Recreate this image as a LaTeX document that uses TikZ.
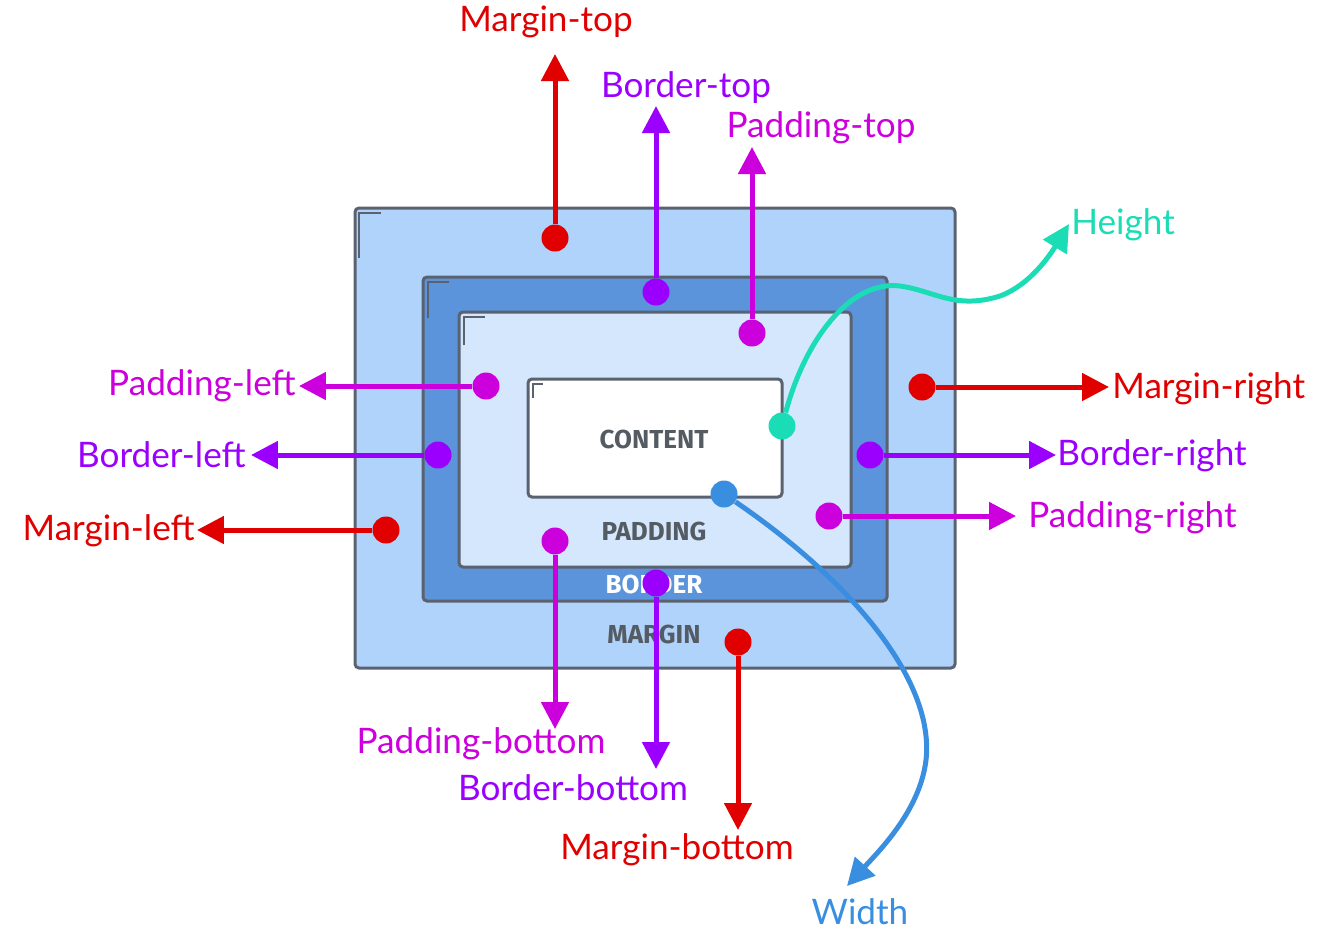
\documentclass[tikz,border=0pt]{standalone}
\usepackage{fontspec}
\setmainfont{Lato}
\setsansfont{Fira Sans}
\usepackage{xcolor}
\usepackage{tikz}
\usetikzlibrary{arrows.meta,positioning}
\definecolor{mgnfill}{HTML}{B0D3FB}
\definecolor{brdfill}{HTML}{5B94DB}
\definecolor{padfill}{HTML}{D5E7FC}
\definecolor{edge}{HTML}{5A6270}
\definecolor{mgncol}{HTML}{E00000}
\definecolor{brdcol}{HTML}{9B00FF}
\definecolor{padcol}{HTML}{CC00DD}
\definecolor{htcol}{HTML}{1BDDB5}
\definecolor{wdcol}{HTML}{3A8EE0}
\definecolor{txtgray}{HTML}{555B63}

\begin{document}
\begin{tikzpicture}[x=0.02cm,y=-0.02cm,
    box/.style={draw=edge, line width=0.06cm, rounded corners=0.08cm},
    tick/.style={edge, line width=0.03cm},
    dot/.style={circle, fill=#1, inner sep=0pt, minimum size=0.54cm},
    arr/.style={#1, line width=0.1cm, -{Triangle[length=0.54cm,width=0.54cm]}},
    lbl/.style={text=#1, font=\fontsize{20}{22}\selectfont, inner sep=0pt},
    tag/.style={text=#1, font=\sffamily\bfseries\fontsize{14.8}{16}\selectfont, inner sep=0pt}]
        \useasboundingbox (0,0) rectangle (1328,934);
        \draw[box, fill=mgnfill] (355,208) rectangle (955,668);
        \draw[box, fill=brdfill] (423,277) rectangle (887,601);
        \draw[box, fill=padfill] (459,312) rectangle (851,567);
        \draw[box, fill=white] (528,379) rectangle (782,497);
        \draw[tick] (359,258) -- (359,213) -- (381,213);
        \draw[tick] (428,318) -- (428,282) -- (449,282);
        \draw[tick] (464,345) -- (464,317) -- (485,317);
        \draw[tick] (533,398) -- (533,384) -- (543,384);
        \node[tag=txtgray] (content) at (654,439) {CONTENT};
        \node[tag=txtgray] (padding) at (654,531) {PADDING};
        \node[tag=white] (border) at (654,584) {BORDER};
        \node[tag=txtgray] (margin) at (654,634) {MARGIN};
        \node[dot=mgncol] (mt) at (555,238) {};
        \node[dot=brdcol] (bt) at (656,292) {};
        \node[dot=padcol] (pt) at (752,333) {};
        \node[dot=mgncol] (mr) at (922,387) {};
        \node[dot=brdcol] (br) at (870,455) {};
        \node[dot=padcol] (pr) at (829,516) {};
        \node[dot=padcol] (pl) at (486,386) {};
        \node[dot=brdcol] (bl) at (438,455) {};
        \node[dot=mgncol] (ml) at (386,530) {};
        \node[dot=padcol] (pb) at (555,541) {};
        \node[dot=brdcol] (bb) at (656,583) {};
        \node[dot=mgncol] (mb) at (738,642) {};
        \node[dot=htcol] (ht) at (782,426) {};
        \node[dot=wdcol] (wd) at (724,494) {};
        \coordinate (mtend) at (555,54);
        \coordinate (btend) at (656,106);
        \coordinate (ptend) at (752,147);
        \coordinate (mrend) at (1109,387);
        \coordinate (brend) at (1056,455);
        \coordinate (prend) at (1016,516);
        \coordinate (plend) at (299,386);
        \coordinate (blend) at (251,455);
        \coordinate (mlend) at (197,530);
        \coordinate (pbend) at (555,729);
        \coordinate (bbend) at (656,769);
        \coordinate (mbend) at (738,830);
        \coordinate (htend) at (1069,224);
        \coordinate (wdend) at (847,886);
        \draw[arr=mgncol] (mt) -- (mtend);
        \draw[arr=brdcol] (bt) -- (btend);
        \draw[arr=padcol] (pt) -- (ptend);
        \draw[arr=mgncol] (mr) -- (mrend);
        \draw[arr=brdcol] (br) -- (brend);
        \draw[arr=padcol] (pr) -- (prend);
        \draw[arr=padcol] (pl) -- (plend);
        \draw[arr=brdcol] (bl) -- (blend);
        \draw[arr=mgncol] (ml) -- (mlend);
        \draw[arr=padcol] (pb) -- (pbend);
        \draw[arr=brdcol] (bb) -- (bbend);
        \draw[arr=mgncol] (mb) -- (mbend);
        \draw[arr=htcol] (ht) .. controls (805,340) and (850,280) .. (900,286)
            .. controls (935,291) and (955,310) .. (1000,296)
            .. controls (1030,285) and (1050,255) .. (htend);
        \draw[arr=wdcol] (wd) .. controls (850,580) and (935,680) .. (926,760)
            .. controls (920,810) and (880,850) .. (wdend);
        \node[lbl=mgncol] (mtlbl) at (546,22) {Margin-top};
        \node[lbl=brdcol] (btlbl) at (686,88) {Border-top};
        \node[lbl=padcol] (ptlbl) at (821,128) {Padding-top};
        \node[lbl=htcol, anchor=west] (htlbl) at (1071,225) {Height};
        \node[lbl=mgncol, anchor=west] (mrlbl) at (1112,389) {Margin-right};
        \node[lbl=brdcol, anchor=west] (brlbl) at (1057,456) {Border-right};
        \node[lbl=padcol, anchor=west] (prlbl) at (1028,518) {Padding-right};
        \node[lbl=padcol, anchor=east] (pllbl) at (296,386) {Padding-left};
        \node[lbl=brdcol, anchor=east] (bllbl) at (246,455) {Border-left};
        \node[lbl=mgncol, anchor=east] (mllbl) at (195,531) {Margin-left};
        \node[lbl=padcol] (pblbl) at (481,744) {Padding-bottom};
        \node[lbl=brdcol] (bblbl) at (573,788) {Border-bottom};
        \node[lbl=mgncol] (mblbl) at (677,850) {Margin-bottom};
        \node[lbl=wdcol] (wdlbl) at (860,912) {Width};
    \end{tikzpicture}
\end{document}
